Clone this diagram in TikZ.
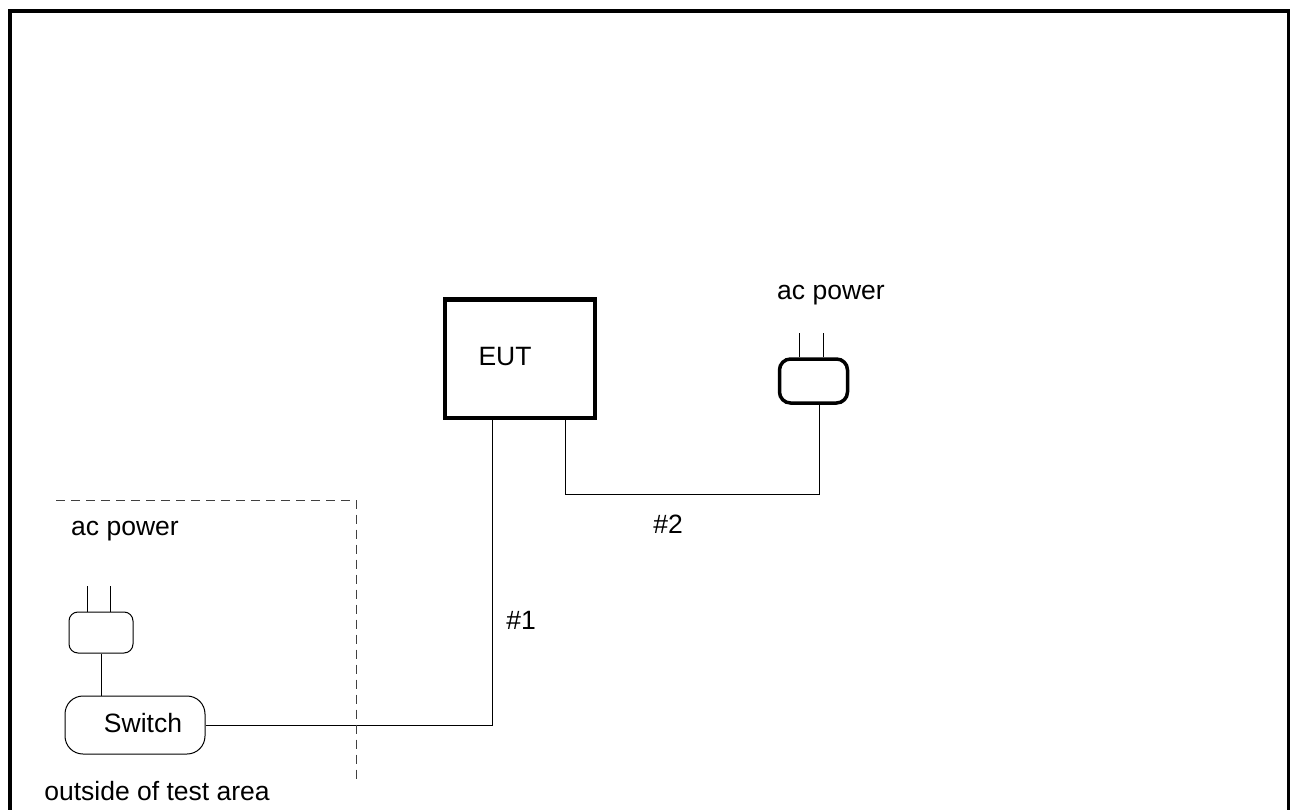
\documentclass[tikz,border=0pt]{standalone}
\usepackage{fontspec}
\setmainfont{Liberation Sans}
\usetikzlibrary{calc}

\tikzset{every picture/.style={line width=1pt}}
\tikzset{
  eutbox/.style={draw, line width=4pt, minimum width=150pt, minimum height=118pt, inner sep=0pt},
  plugbold/.style={draw, line width=3.5pt, rounded corners=11pt, minimum width=68pt, minimum height=44pt, inner sep=0pt},
  plugthin/.style={draw, line width=1pt, rounded corners=9pt, minimum width=64pt, minimum height=41pt, inner sep=0pt},
  switchbox/.style={draw, line width=1pt, rounded corners=18pt, minimum width=140pt, minimum height=58pt, inner sep=0pt},
  lbl/.style={inner sep=0pt, font=\fontsize{26.5}{30}\selectfont},
  cable/.style={line width=1pt},
  arealine/.style={line width=1pt, dash pattern=on 9pt off 6pt, color=black!75}
}

\begin{document}
\begin{tikzpicture}[x=1pt,y=1pt,yscale=-1,xscale=1]
\useasboundingbox (0,0) rectangle (1290,810);

%Frame
\draw [line width=4pt] (10,810) -- (10,11.5) -- (1288.5,11.5) -- (1288.5,810) ;

%Boxes
\node [eutbox] (eut) at (519.5,358.5) {};
\node [plugbold] (plugR) at (813.5,381) {};
\node [plugthin] (plugL) at (101,632.5) {};
\node [switchbox] (switch) at (135,725) {};

%Prongs
\draw [cable] ([xshift=-14.5pt]plugR.north) -- ++(0,-24) ;
\draw [cable] ([xshift=9.5pt]plugR.north) -- ++(0,-24) ;
\draw [cable] ([xshift=-14pt]plugL.north) -- ++(0,-26) ;
\draw [cable] ([xshift=9pt]plugL.north) -- ++(0,-26) ;

%Cable coordinates
\coordinate (eutA) at ([xshift=50pt]eut.south west);
\coordinate (eutB) at ([xshift=122.5pt]eut.south west);
\coordinate (plugRout) at ([xshift=5.5pt]plugR.south);

%Cables
\draw [cable] (plugL.south) -- (plugL.south |- switch.north) ;
\draw [cable] (switch.east) -| (eutA) ;
\draw [cable] (eutB) -- (eutB |- 0,494) -- (plugRout |- 0,494) -- (plugRout) ;

%Test area border
\draw [arealine] (56,500) -- (356.5,500) -- (356.5,783) ;

% Text Node
\node [lbl] (eutlbl) at (505,357) {EUT};
% Text Node
\node [lbl] (switchlbl) at (143,723) {Switch};
% Text Node
\node [lbl] (acR) at (831,295) {ac power};
% Text Node
\node [lbl] (acL) at (125,531) {ac power};
% Text Node
\node [lbl] (c2) at (668,524) {\#2};
% Text Node
\node [lbl] (c1) at (521,620) {\#1};
% Text Node
\node [lbl] (outside) at (157,791) {outside of test area};

\end{tikzpicture}
\end{document}
